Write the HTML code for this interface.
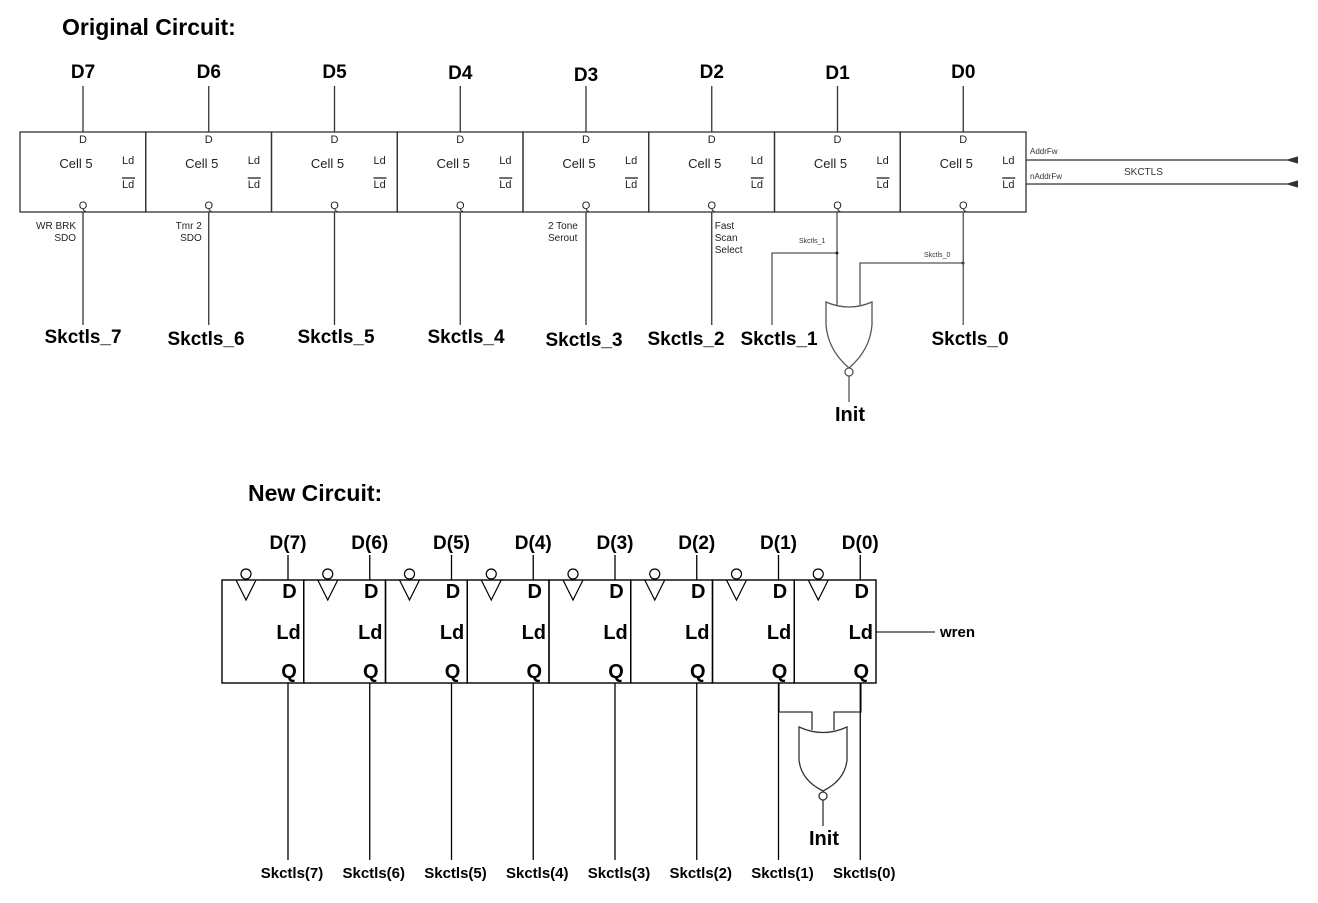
<!DOCTYPE html>
<html><head><meta charset="utf-8"><style>
body{margin:0;background:#fff}
svg{display:block}
text{font-family:"Liberation Sans",sans-serif}
.b{font-weight:bold}
</style></head><body>
<svg id="c" width="1318" height="903" viewBox="0 0 1318 903" xmlns="http://www.w3.org/2000/svg">
<text x="62" y="35" font-size="23" class="b">Original Circuit:</text>
<text x="248" y="501" font-size="23" class="b">New Circuit:</text>
<g stroke="#333" stroke-width="1.3" fill="none">
<line x1="1026" y1="160" x2="1298" y2="160"/><line x1="1026" y1="184" x2="1298" y2="184"/>
<path d="M1298 157 L1288 160 L1298 163" fill="#333"/><path d="M1298 181 L1288 184 L1298 187" fill="#333"/>
</g>
<text x="1030" y="154" font-size="8" fill="#333">AddrFw</text>
<text x="1030" y="179" font-size="8" fill="#333">nAddrFw</text>
<text x="1124" y="175" font-size="10" fill="#333">SKCTLS</text>
<g stroke="#555" stroke-width="1.3" fill="none">
<line x1="837" y1="212" x2="837" y2="310"/>
<polyline points="837,253 772,253 772,325"/>
<polyline points="963,263 860,263 860,305"/>
<path d="M826 302 Q849 312 872 302 L872 325 Q870 350 849 368 Q828 350 826 325 Z" fill="#fff"/>
<circle cx="849" cy="372" r="4" fill="#fff"/>
<line x1="849" y1="376" x2="849" y2="402"/>
</g>
<circle cx="837" cy="253" r="1.5" fill="#222"/><circle cx="963" cy="263" r="1.5" fill="#222"/>
<text x="799" y="243" font-size="7" fill="#333">Skctls_1</text>
<text x="924" y="257" font-size="7" fill="#333">Skctls_0</text>
<text x="835" y="421" font-size="20" class="b">Init</text>
<g stroke="#333" stroke-width="1.3" fill="none">
<polyline points="779,683 779,712 812,712 812,730"/>
<polyline points="861,683 861,712 834,712 834,730"/>
<path d="M799 727 Q823 738 847 727 L847 760 Q845 780 823 791 Q801 780 799 760 Z" fill="#fff"/>
<circle cx="823" cy="796" r="4" fill="#fff"/>
<line x1="823" y1="800" x2="823" y2="826"/>
<line x1="876" y1="632" x2="935" y2="632"/>
</g>
<text x="809" y="845" font-size="20" class="b">Init</text>
<text x="940" y="637" font-size="15" class="b">wren</text>
</svg>
<script>
const topInputs=["D7","D6","D5","D4","D3","D2","D1","D0"];
const topOutputs=["Skctls_7","Skctls_6","Skctls_5","Skctls_4","Skctls_3","Skctls_2","Skctls_1","Skctls_0"];
const topNotes=[["WR BRK","SDO"],["Tmr 2","SDO"],[],[],["2 Tone","Serout"],["Fast","Scan","Select"],[],[]];
const newInputs=["D(7)","D(6)","D(5)","D(4)","D(3)","D(2)","D(1)","D(0)"];
const newOutputs=["Skctls(7)","Skctls(6)","Skctls(5)","Skctls(4)","Skctls(3)","Skctls(2)","Skctls(1)","Skctls(0)"];
const svg=document.getElementById('c');
const NS='http://www.w3.org/2000/svg';
function mk(t,a,txt){const e=document.createElementNS(NS,t);for(const k in a)e.setAttribute(k,a[k]);if(txt!==undefined)e.textContent=txt;svg.appendChild(e);return e;}
const tw=(1026-20)/8;
const inY=[72,72,72,73,75,72,73,72],outY=[336,338,336,336,339,338,338,338];
const outX=[83,206,336,466,584,686,779,970];
topInputs.forEach((d,i)=>{
  const x0=20+i*tw,cx=x0+63;
  let r=mk('rect',{x:x0,y:132,width:tw,height:80,fill:'none',stroke:'#333','stroke-width':1.3});
  
  
  let l=mk('line',{x1:cx,y1:86,x2:cx,y2:132,stroke:'#333','stroke-width':1.3});
  
  
  if(i!=6){let lo=mk('line',{x1:cx,y1:212,x2:cx,y2:325,stroke:i==7?'#555':'#333','stroke-width':1.3});
  
  }
  let t=mk('text',{x:cx,y:inY[i]+6,'font-size':19,'font-weight':'bold','text-anchor':'middle'},d);
  
  
  let o=mk('text',{x:outX[i],y:outY[i]+7,'font-size':19,'font-weight':'bold','text-anchor':'middle',textLength:77,lengthAdjust:'spacingAndGlyphs'},topOutputs[i]);
  
  
  [['D',cx,143,'middle'],['Cell 5',x0+56,168,'middle'],['Ld',x0+102,164,'start'],['Ld',x0+102,188,'start'],['Q',cx,209,'middle']].forEach(p=>{
    let e=mk('text',{x:p[1],y:p[2],'font-size':p[0]=='Cell 5'?13:11,'text-anchor':p[3],fill:'#222'},p[0]);
    
    
  });
  let ov=mk('line',{x1:x0+102,y1:178,x2:x0+115,y2:178,stroke:'#222','stroke-width':1.3});
  
  
  topNotes[i].forEach((n,k)=>{
    let e=mk('text',{x:i==5?x0+66:(i==4?x0+25:x0+56),y:229+k*12,'font-size':10,'text-anchor':(i==5||i==4)?'start':'end',fill:'#222'},n);
    
    
  });
});
const nw=(876-222)/8;
newInputs.forEach((d,i)=>{
  const x0=222+i*nw,cx=x0+66;
  let r=mk('rect',{x:x0,y:580,width:nw,height:103,fill:'none',stroke:'#000','stroke-width':1.4});
  
  
  let l=mk('line',{x1:cx,y1:555,x2:cx,y2:580,stroke:'#000','stroke-width':1.3});
  
  
  let lo=mk('line',{x1:cx,y1:683,x2:cx,y2:860,stroke:'#000','stroke-width':1.3});
  
  
  let tri=mk('path',{d:`M${x0+14} 580 L${x0+24} 600 L${x0+34} 580`,fill:'none',stroke:'#000','stroke-width':1.2});
  
  
  let ci=mk('circle',{cx:x0+24,cy:574,r:5,fill:'#fff',stroke:'#000','stroke-width':1.2});
  
  
  let t=mk('text',{x:cx,y:549,'font-size':19,'font-weight':'bold','text-anchor':'middle'},d);
  
  
  let o=mk('text',{x:cx+4,y:878,'font-size':15,'font-weight':'bold','text-anchor':'middle'},newOutputs[i]);
  
  
  [['D',598,7],['Ld',639,3],['Q',678,7]].forEach(p=>{
    let e=mk('text',{x:x0+nw-p[2],y:p[1],'font-size':20,'font-weight':'bold','text-anchor':'end'},p[0]);
    
    
  });
});
</script>
</body></html>
